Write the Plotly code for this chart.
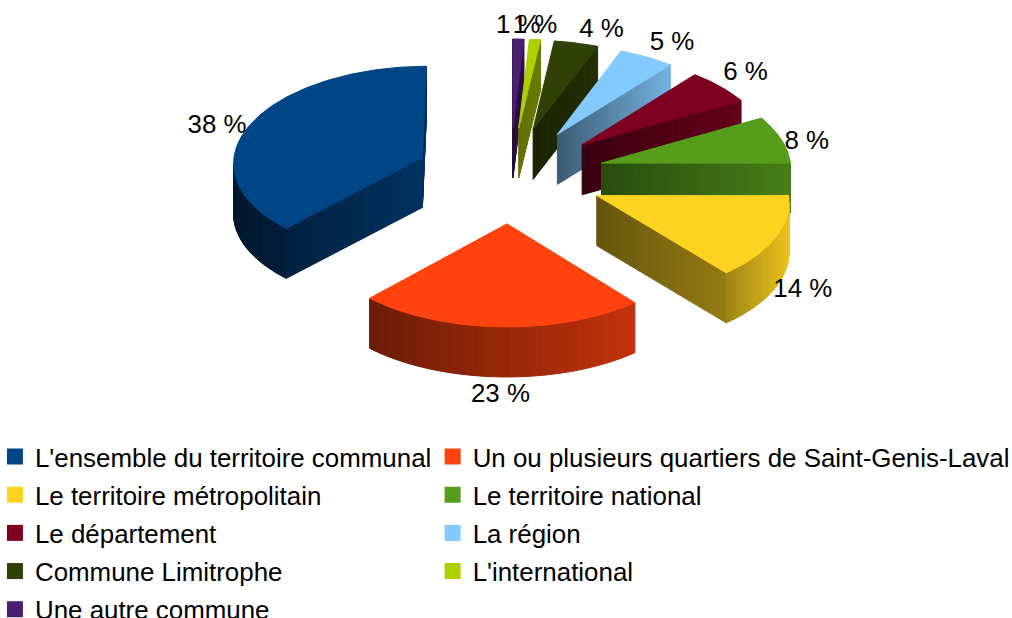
import math
import plotly.graph_objects as go

# --- chart data -------------------------------------------------------------
categories = ["L'ensemble du territoire communal",
              "Un ou plusieurs quartiers de Saint-Genis-Laval",
              "Le territoire métropolitain", "Le territoire national",
              "Le département", "La région", "Commune Limitrophe",
              "L'international", "Une autre commune"]
values = [38, 23, 14, 8, 6, 5, 4, 1, 1]
colors = ["#004586", "#ff420e", "#ffd320", "#579d1c", "#7e0021",
          "#83caff", "#314004", "#aecf00", "#4b1f6f"]

# --- view of the exploded 3D pie --------------------------------------------
CX, CY = 510.0, 175.0
SX, SY, SYQ, PERSP = 190.0, 96.0, 3.55, 0.045
DEPTH = 50.0
EXPLODE = 0.5
STRIPS_PER_DEG = 1.0
CUT_STRIPS = 30
# brightness (left, right) of: arc wall, start cut, end cut
SHADE = [((.34, .42), (.7, .7), (.48, .72)),
         ((.42, .76), (.5, .5), (.5, .5)),
         ((.62, .92), (.40, .58), (.5, .5)),
         ((.8, .8), (.48, .80), (.5, .5)),
         ((.8, .8), (.45, .80), (.5, .5)),
         ((.85, .85), (.45, .88), (.5, .5)),
         ((.8, .8), (.55, .72), (.5, .5)),
         ((.7, .7), (.55, .6), (.5, .5)),
         ((.6, .6), (.55, .6), (.5, .5))]
DRAW_ORDER = [8, 7, 6, 5, 4, 3, 0, 2, 1]


def project(x, y):
    return (CX + SX * (1 + PERSP * y) * x, CY + SY * y + SYQ * y * y)


def unit(theta):
    return -math.sin(theta), -math.cos(theta)


def scaled(hex_color, f):
    r, g, b = (int(hex_color[i:i + 2], 16) for i in (1, 3, 5))
    return f"rgb({r * f:.0f},{g * f:.0f},{b * f:.0f})"


def poly(points, color):
    return go.Scatter(x=[p[0] for p in points] + [points[0][0]],
                      y=[p[1] for p in points] + [points[0][1]],
                      mode="lines", fill="toself", fillcolor=color,
                      line=dict(color=color, width=1),
                      hoverinfo="skip", showlegend=False)


def quad_wall(p0, p1):
    return [p0, p1, (p1[0], p1[1] + DEPTH), (p0[0], p0[1] + DEPTH)]


def area(pts):
    return sum(pts[i][0] * pts[(i + 1) % len(pts)][1] - pts[(i + 1) % len(pts)][0] * pts[i][1]
               for i in range(len(pts)))


def wall_strips(track, base, shade):
    """Strips along a polyline of top-edge points, shaded left-to-right."""
    out = []
    xs = [p[0] for p in track]
    xmin, xmax = min(xs), max(xs)
    for i in range(len(track) - 1):
        a, b = track[i], track[i + 1]
        t = ((a[0] + b[0]) / 2 - xmin) / max(xmax - xmin, 1e-6)
        f = shade[0] + (shade[1] - shade[0]) * t
        out.append(poly(quad_wall(a, b), scaled(base, f)))
    return out


total = sum(values)
starts, acc = [], 0
for v in values:
    starts.append(acc)
    acc += v

traces = []
label_x, label_y, label_pos, label_text = [], [], [], []

for idx in DRAW_ORDER:
    t0 = starts[idx] / total * 2 * math.pi
    t1 = (starts[idx] + values[idx]) / total * 2 * math.pi
    mid = (t0 + t1) / 2
    bx, by = unit(mid)
    ox, oy = EXPLODE * bx, EXPLODE * by
    n = max(3, int(math.degrees(t1 - t0) * STRIPS_PER_DEG))
    ground = [(ox + unit(t0 + (t1 - t0) * i / n)[0],
               oy + unit(t0 + (t1 - t0) * i / n)[1]) for i in range(n + 1)]
    arc = [project(*g) for g in ground]
    apex = project(ox, oy)
    top = [apex] + arc
    sign = 1 if area(top) > 0 else -1

    walls = []
    shade_arc, shade_a, shade_b = SHADE[idx]
    for pair, shade in (((apex, arc[0]), shade_a), ((arc[-1], apex), shade_b)):
        if area(quad_wall(pair[0], pair[1])) * sign < 0:
            pts = [(pair[0][0] + (pair[1][0] - pair[0][0]) * k / CUT_STRIPS,
                    pair[0][1] + (pair[1][1] - pair[0][1]) * k / CUT_STRIPS)
                   for k in range(CUT_STRIPS + 1)]
            walls += wall_strips(pts, colors[idx], shade)
    visible = [i for i in range(n) if area(quad_wall(arc[i], arc[i + 1])) * sign < 0]
    if visible:
        track = arc[visible[0]:visible[-1] + 2]
        walls += wall_strips(track, colors[idx], shade_arc)
    traces += walls
    traces.append(poly(top, colors[idx]))

    # data label at the bisector of the slice rim
    rx, ry = project(1.5 * bx, 1.5 * by)
    if by > 0:
        ry += DEPTH
    vpos = "bottom" if by > 0.9 else ("top" if by < -0.6 else "middle")
    hpos = "center" if abs(bx) < 0.2 else ("right" if bx > 0 else "left")
    if hpos == "right":
        rx += -2 if by > 0 else 3
    elif hpos == "left":
        rx -= 5
    if vpos == "middle":
        ry += 3
    elif vpos == "bottom":
        ry += 6
    label_x.append(rx)
    label_y.append(ry)
    label_pos.append(f"{vpos} {hpos}")
    label_text.append(f"{values[idx]} %")

fig = go.Figure(traces)
fig.add_trace(go.Scatter(x=label_x, y=label_y, mode="text", text=label_text,
                         textposition=label_pos, cliponaxis=False,
                         textfont=dict(size=25.9, color="#000000"),
                         hoverinfo="skip", showlegend=False))

# legend: two columns filled row by row
for i, (name, col) in enumerate(zip(categories, colors)):
    fig.add_trace(go.Scatter(x=[None], y=[None], mode="markers", name=name,
                             legendgroup=name,
                             legend="legend" if i % 2 == 0 else "legend2",
                             marker=dict(symbol="square", size=16, color=col)))

legend_common = dict(font=dict(size=25.9, color="#000000"), tracegroupgap=1.5,
                     bgcolor="rgba(0,0,0,0)", xanchor="left", yanchor="top",
                     itemsizing="trace", yref="paper", xref="paper",
                     traceorder="grouped")
fig.update_layout(
    width=1012, height=618,
    margin=dict(l=0, r=0, t=0, b=0, autoexpand=False),
    paper_bgcolor="#ffffff", plot_bgcolor="#ffffff",
    font=dict(family="Liberation Sans, Arial, sans-serif"),
    xaxis=dict(range=[0, 1012], visible=False, fixedrange=True),
    yaxis=dict(range=[618, 0], visible=False, fixedrange=True),
    legend=dict(x=-0.005, y=0.299, **legend_common),
    legend2=dict(x=0.4275, y=0.299, **legend_common),
    showlegend=True,
)
fig.write_html("out.html", config=dict(displayModeBar=False),
               post_script="document.body.style.margin='0';")
